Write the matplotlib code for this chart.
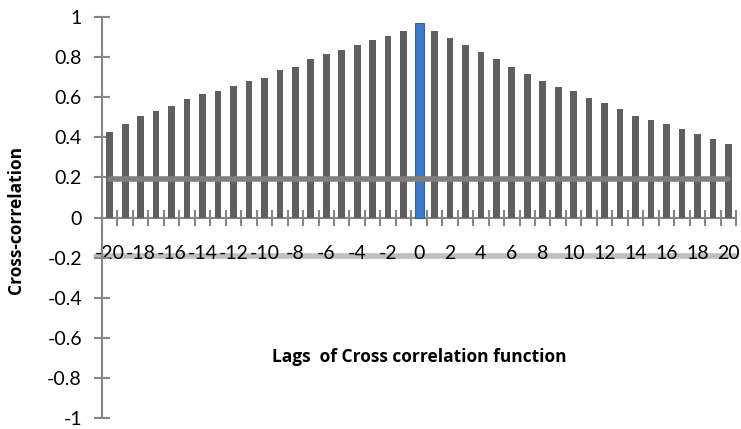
import matplotlib
matplotlib.use("Agg")
import matplotlib.pyplot as plt
import numpy as np

# lags of the cross correlation function
lags = list(range(-20, 21))
xcorr = [
    0.425, 0.464, 0.504, 0.529, 0.554, 0.589, 0.614, 0.633, 0.658, 0.683,
    0.698, 0.738, 0.753, 0.788, 0.813, 0.837, 0.862, 0.887, 0.907, 0.932,
    0.970,
    0.932, 0.897, 0.862, 0.823, 0.788, 0.753, 0.718, 0.683, 0.653, 0.629,
    0.594, 0.569, 0.539, 0.504, 0.484, 0.464, 0.439, 0.415, 0.390, 0.365,
]
upper_bound = 0.19
lower_bound = -0.19
tick_lags = list(range(-20, 21, 2))
y_ticks = [-1, -0.8, -0.6, -0.4, -0.2, 0, 0.2, 0.4, 0.6, 0.8, 1]

AXIS_GRAY = "#868686"
FS = 14
BOLD_FONT = ["Open Sans", "DejaVu Sans"]

plt.rcParams["font.family"] = ["Lato", "DejaVu Sans"]

fig = plt.figure(figsize=(7.41, 4.29), dpi=100)
ax = fig.add_axes([0.1377, 0.0256, 0.8556, 0.9348])

lag_arr = np.array(lags)
val_arr = np.array(xcorr)
is_zero = lag_arr == 0

ax.bar(lag_arr[~is_zero], val_arr[~is_zero], width=0.43, color="#5f5f5f", zorder=3)
ax.bar(lag_arr[is_zero], val_arr[is_zero], width=0.58, color="#3b7bc8",
       edgecolor="#2f63a3", linewidth=0.8, zorder=4)

# confidence bounds
ax.plot([lags[0], lags[-1]], [upper_bound, upper_bound], color="#7f7f7f",
        lw=4, solid_capstyle="round", zorder=5)
ax.plot([lags[0] - 0.9, lags[-1] + 0.5], [lower_bound, lower_bound], color="#bfbfbf",
        lw=4, solid_capstyle="round", zorder=1, clip_on=False)

ax.set_xlim(lags[0] - 0.5, lags[-1] + 0.5)
ax.set_ylim(-1, 1)

for side in ["top", "right"]:
    ax.spines[side].set_visible(False)
ax.spines["bottom"].set_position(("data", 0))
ax.spines["bottom"].set_color(AXIS_GRAY)
ax.spines["bottom"].set_linewidth(1.5)
ax.spines["left"].set_color(AXIS_GRAY)
ax.spines["left"].set_linewidth(1.5)

ax.set_xticks(tick_lags)
ax.set_xticklabels([str(t) for t in tick_lags])
ax.set_xticks(np.arange(lags[0] - 0.5, lags[-1] + 1), minor=True)
ax.tick_params(axis="x", which="major", length=0, pad=20, labelsize=FS)
ax.tick_params(axis="x", which="minor", direction="inout", length=11,
               width=1.5, color=AXIS_GRAY)

ax.set_yticks(y_ticks)
ax.set_yticklabels([f"{t:g}" for t in y_ticks])
ax.tick_params(axis="y", direction="inout", length=11, width=1.5,
               color=AXIS_GRAY, labelsize=FS, pad=9)

ax.set_ylabel("Cross-correlation", fontsize=12.5, fontweight="bold",
              family=BOLD_FONT)
ax.yaxis.set_label_coords(-0.122, 0.494)
ax.text(0.0, -0.695, "Lags  of Cross correlation function", fontsize=12.5,
        fontweight="bold", family=BOLD_FONT, ha="center", va="center")

fig.savefig("out.png", dpi=100)
